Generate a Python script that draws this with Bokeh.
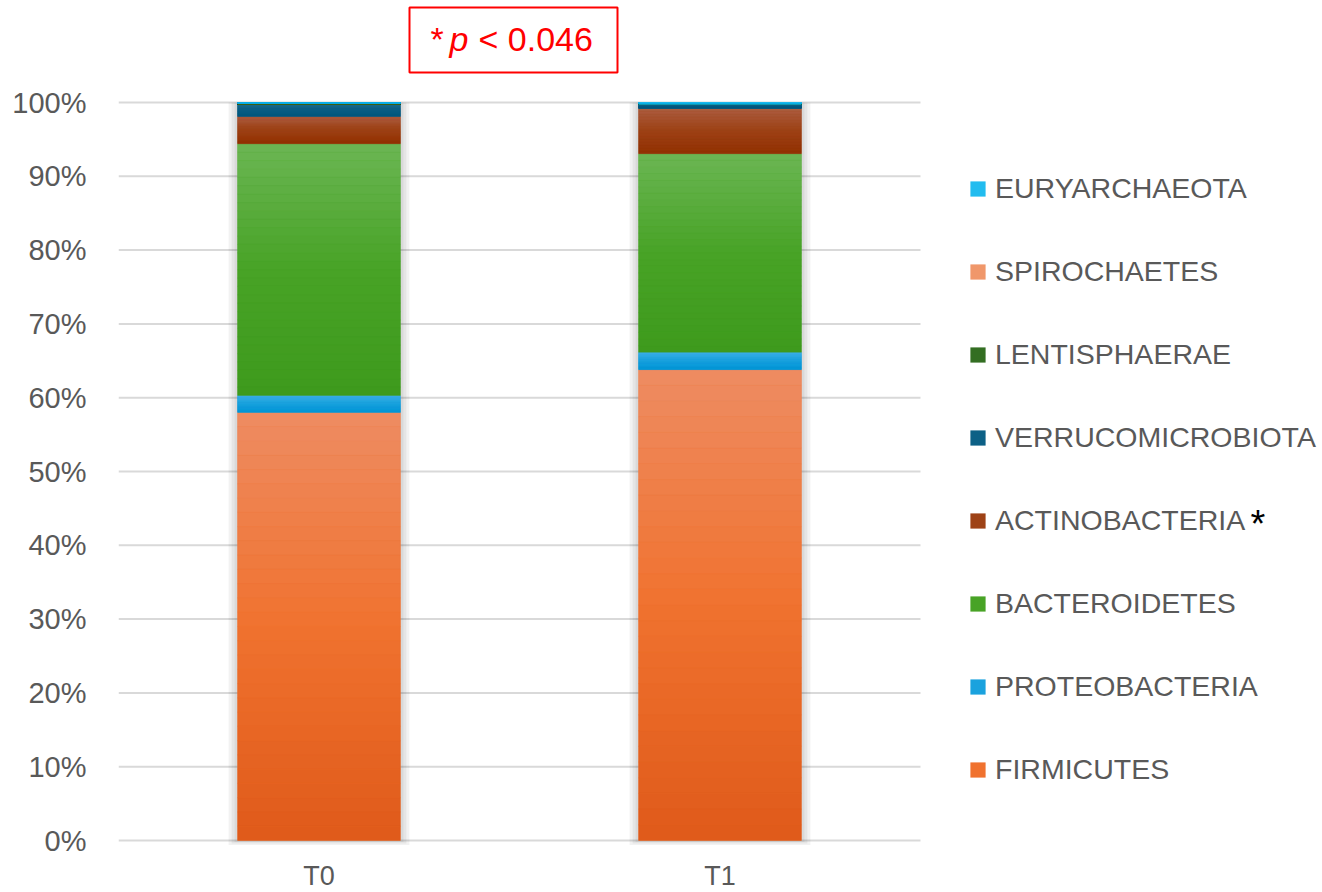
from bokeh.plotting import figure
from bokeh.models import (Range1d, FixedTicker, PrintfTickFormatter, Legend,
                          LegendItem, Label, BoxAnnotation, ColumnDataSource)
from bokeh.core.properties import value
from bokeh.embed import file_html
from bokeh.resources import INLINE

# ---- data: relative abundance (%) of each phylum per time point ----
categories = ["T0", "T1"]
phyla = ["FIRMICUTES", "PROTEOBACTERIA", "BACTEROIDETES", "ACTINOBACTERIA",
         "VERRUCOMICROBIOTA", "LENTISPHAERAE", "SPIROCHAETES", "EURYARCHAEOTA"]
firmicutes = [58.0, 63.8]
proteobacteria = [2.3, 2.35]
bacteroidetes = [34.1, 26.9]
actinobacteria = [3.7, 6.15]
verrucomicrobiota = [1.7, 0.55]
lentisphaerae = [0.05, 0.05]
spirochaetes = [0.05, 0.0]
euryarchaeota = [0.1, 0.2]
y_ticks = [0, 10, 20, 30, 40, 50, 60, 70, 80, 90, 100]
significant = "ACTINOBACTERIA"
p_text = "< 0.046"

# (top, middle, bottom) colour of each segment's vertical gradient
shades = [
    ("#EE8C62", "#F0722F", "#DF5A1A"),
    ("#40B0E8", "#1AA2DE", "#0396D5"),
    ("#6BB654", "#48A326", "#3E9A1D"),
    ("#AC5E42", "#9E4216", "#913102"),
    ("#246F8E", "#0C6086", "#03597F"),
    ("#4C7C3C", "#336E22", "#235E12"),
    ("#F4A67C", "#F0976A", "#EC8A56"),
    ("#52CAF4", "#22BCEF", "#0AAFE8"),
]

# ---- layout constants (pixels) ----
W, H = 1322, 892
LEFT = 118
PX_PER_CAT = 401.0
PX_PER_PCT = 7.38
ZERO_PX = 840.0
BAR_W = 0.406
BASELINE_SHIFT = 0.37   # alphabetic baseline correction, in em


def sx(px):
    return (px - LEFT) / PX_PER_CAT


def sy(py):
    return (ZERO_PX - py) / PX_PER_PCT


def sy_text(py, size):
    return sy(py - BASELINE_SHIFT * size)


def hex_rgb(h):
    return tuple(int(h[i:i + 2], 16) for i in (1, 3, 5))


def mix(c1, c2, t):
    a, b = hex_rgb(c1), hex_rgb(c2)
    return "#%02x%02x%02x" % tuple(round(a[i] + (b[i] - a[i]) * t) for i in range(3))


def shade_at(stops, t):
    top, mid, bot = stops
    return mix(top, mid, t / 0.5) if t < 0.5 else mix(mid, bot, (t - 0.5) / 0.5)


series = [firmicutes, proteobacteria, bacteroidetes, actinobacteria,
          verrucomicrobiota, lentisphaerae, spirochaetes, euryarchaeota]
xs = [i + 0.5 for i in range(len(categories))]
data = {"x": xs}
for name, vals in zip(phyla, series):
    data[name] = vals
source = ColumnDataSource(data)

p = figure(width=W, height=H, output_backend="svg", toolbar_location=None,
           x_range=Range1d(0, (W - LEFT) / PX_PER_CAT),
           y_range=Range1d(sy(H), sy(0)), x_axis_location=None,
           min_border_left=LEFT, min_border_right=0, min_border_top=0,
           min_border_bottom=0, outline_line_color=None,
           background_fill_color="white", border_fill_color="white")

p.xgrid.visible = False
p.ygrid.visible = False

# horizontal gridlines spanning the category area only
p.segment(x0=[0] * len(y_ticks), x1=[len(categories)] * len(y_ticks),
          y0=y_ticks, y1=y_ticks, line_color="#D9D9D9", line_width=2)

# soft shadow behind each bar
totals = [sum(v[i] for v in series) for i in range(len(categories))]
for k in range(3):
    pad = (k + 1) * 3 / PX_PER_CAT
    p.vbar(x=xs, top=totals, bottom=[-(k + 1) * 0.2] * len(xs),
           width=BAR_W + 2 * pad, fill_color="black", fill_alpha=0.05,
           line_color=None)

renderers = p.vbar_stack(phyla, x="x", width=BAR_W, source=source,
                         color=[s[1] for s in shades], line_color=None)

# vertical gradient inside every stacked segment
N_SLICES = 30
gx, gtop, gbot, gcol = [], [], [], []
for i, x in enumerate(xs):
    base = 0.0
    for vals, stops in zip(series, shades):
        v = vals[i]
        if v > 0:
            for s in range(N_SLICES):
                t0 = s / N_SLICES
                gx.append(x)
                gtop.append(base + v * (1 - t0))
                gbot.append(base + v * (1 - t0 - 1.0 / N_SLICES))
                gcol.append(shade_at(stops, (s + 0.5) / N_SLICES))
        base += v
p.vbar(x=gx, top=gtop, bottom=gbot, width=BAR_W, fill_color=gcol,
       line_color=gcol, line_width=0.3)

# axes
p.yaxis.ticker = FixedTicker(ticks=y_ticks)
p.yaxis.formatter = PrintfTickFormatter(format="%d%%")
ax = p.yaxis[0]
ax.axis_line_color = None
ax.major_tick_line_color = None
ax.minor_tick_line_color = None
ax.major_label_text_font = "Liberation Sans"
ax.major_label_text_font_size = "29px"
ax.major_label_text_color = "#595959"
ax.major_label_standoff = 26

# category labels under the bars
p.text(x=xs, y=[sy_text(885.5, 27)] * len(xs), text=categories,
       text_font=value("Liberation Sans"), text_font_size="27px",
       text_color="#595959", text_align="center", text_baseline="alphabetic")

# legend, top entry is the last stacked phylum
items = [LegendItem(label=name, renderers=[r])
         for name, r in zip(phyla, renderers)][::-1]
legend = Legend(items=items, location=(850, 106), padding=0, margin=0,
                glyph_width=19, glyph_height=19, label_standoff=8,
                label_height=32, spacing=50,
                label_text_font="Liberation Sans", label_text_font_size="28.5px",
                label_text_color="#595959", border_line_color=None,
                background_fill_alpha=0)
p.add_layout(legend)

# significance marker next to the legend entry
p.add_layout(Label(x=sx(1250), y=sy_text(538, 38), text="*", text_color="black",
                   text_font="Liberation Sans", text_font_size="38px",
                   text_baseline="alphabetic"))

# p-value box
p.add_layout(BoxAnnotation(left=sx(409), right=sx(617), bottom=sy(72),
                           top=sy(7), fill_alpha=0, line_color="#FF0000",
                           line_alpha=1, line_width=2))
for txt, px, style in [("*", 430, "normal"), ("p", 449, "italic"),
                       (p_text, 478, "normal")]:
    p.add_layout(Label(x=sx(px), y=sy_text(51.5, 34), text=txt,
                       text_color="#FF0000", text_font="Liberation Sans",
                       text_font_size="34px", text_font_style=style,
                       text_baseline="alphabetic"))

open("out.html", "w").write(file_html(p, INLINE))
